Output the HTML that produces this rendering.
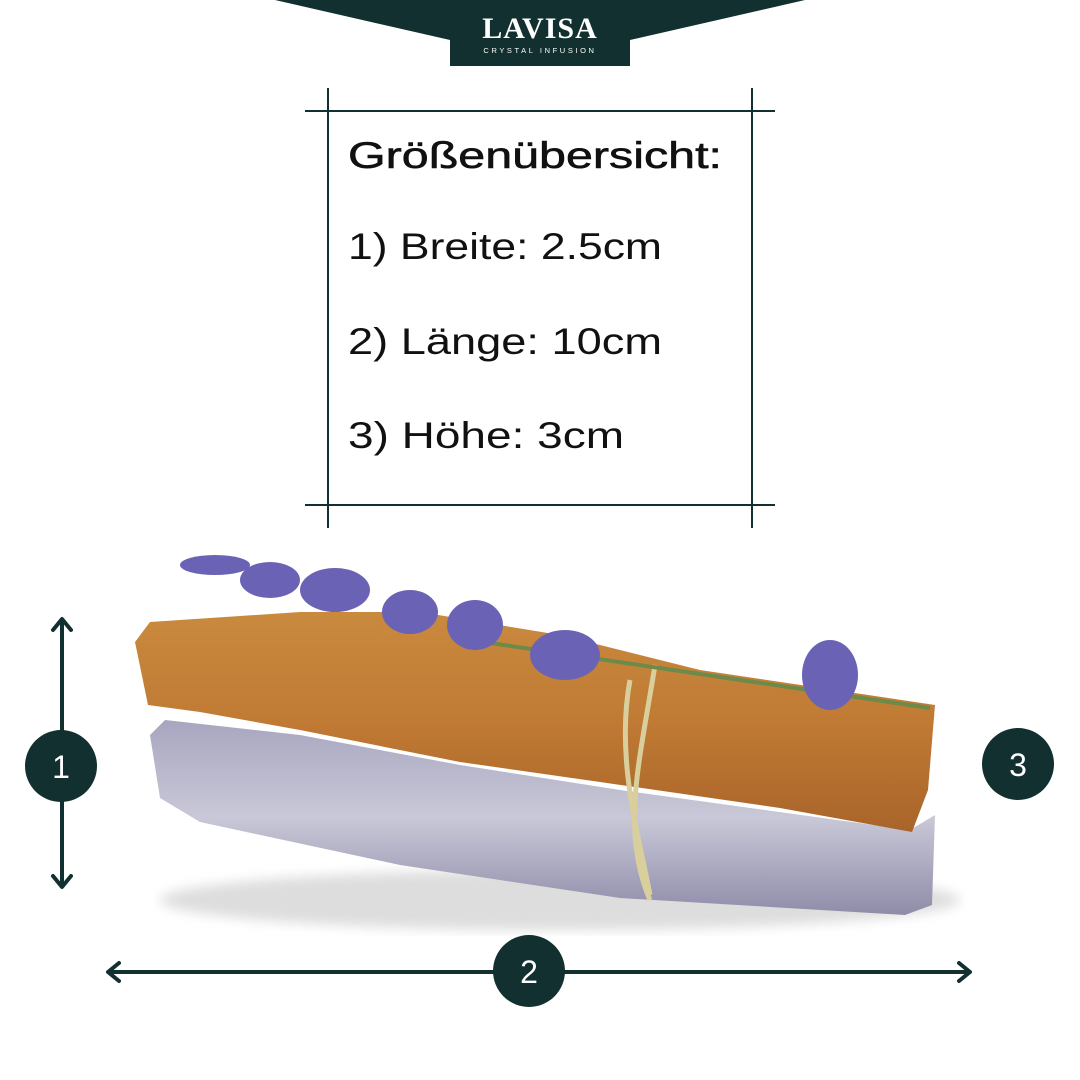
<!DOCTYPE html>
<html><head><meta charset="utf-8"><style>html,body{margin:0;padding:0;background:#fff}svg{display:block}</style></head>
<body>
<svg width="1080" height="1080" viewBox="0 0 1080 1080" xmlns="http://www.w3.org/2000/svg" font-family="Liberation Sans, sans-serif">
<defs>
<linearGradient id="wood" x1="0" y1="0" x2="0" y2="1">
<stop offset="0" stop-color="#c98a3e"/><stop offset="0.5" stop-color="#c07a34"/><stop offset="1" stop-color="#a9642a"/></linearGradient>
<linearGradient id="sel" x1="0" y1="0" x2="0" y2="1">
<stop offset="0" stop-color="#a8a6bf"/><stop offset="0.5" stop-color="#c9c8d8"/><stop offset="1" stop-color="#8e8ca8"/></linearGradient>
<filter id="sh"><feGaussianBlur stdDeviation="6"/></filter>
</defs>
<polygon points="275,0 805,0 630,40 630,66 450,66 450,40" fill="#12302f"/>
<text x="540" y="38" text-anchor="middle" fill="#fff" font-family="Liberation Serif, serif" font-size="30" font-weight="bold" letter-spacing="1">LAVISA</text>
<text x="540" y="53" text-anchor="middle" fill="#fff" font-size="7.5" letter-spacing="2.6">CRYSTAL INFUSION</text>
<g stroke="#12302f" stroke-width="2">
<line x1="305" y1="111" x2="775" y2="111"/><line x1="305" y1="505" x2="775" y2="505"/>
<line x1="328" y1="88" x2="328" y2="528"/><line x1="752" y1="88" x2="752" y2="528"/>
</g>
<g fill="#111" font-size="37">
<text x="348" y="168" textLength="374" lengthAdjust="spacingAndGlyphs" stroke="#111" stroke-width="0.6">Größenübersicht:</text>
<text x="348" y="259" textLength="314" lengthAdjust="spacingAndGlyphs">1) Breite: 2.5cm</text>
<text x="348" y="354" textLength="314" lengthAdjust="spacingAndGlyphs">2) Länge: 10cm</text>
<text x="348" y="448" textLength="276" lengthAdjust="spacingAndGlyphs">3) Höhe: 3cm</text>
</g>
<ellipse cx="560" cy="900" rx="400" ry="30" fill="#ddd" filter="url(#sh)"/>
<polygon points="150,735 165,720 300,735 460,765 620,790 910,830 935,815 932,905 905,915 620,898 400,865 200,822 160,798" fill="url(#sel)"/>
<polygon points="135,642 150,622 300,612 420,612 560,635 700,670 935,705 928,790 912,832 780,808 600,782 460,762 300,730 200,712 148,705" fill="url(#wood)"/>
<path d="M630,680 C615,760 640,840 650,895 M655,665 C640,760 620,830 650,900" stroke="#d8cf9c" stroke-width="5" fill="none"/>
<line x1="470" y1="640" x2="930" y2="708" stroke="#6c8a4a" stroke-width="4"/>
<g fill="#6a63b5">
<ellipse cx="215" cy="565" rx="35" ry="10"/><ellipse cx="270" cy="580" rx="30" ry="18"/>
<ellipse cx="335" cy="590" rx="35" ry="22"/><ellipse cx="410" cy="612" rx="28" ry="22"/>
<ellipse cx="475" cy="625" rx="28" ry="25"/><ellipse cx="565" cy="655" rx="35" ry="25"/>
<ellipse cx="830" cy="675" rx="28" ry="35"/>
</g>
<g stroke="#12302f" stroke-width="4" fill="none" stroke-linecap="round" stroke-linejoin="round">
<line x1="62" y1="620" x2="62" y2="886"/><polyline points="53,630 62,619 71,630"/><polyline points="53,876 62,887 71,876"/>
<line x1="109" y1="972" x2="969" y2="972"/><polyline points="119,963 108,972 119,981"/><polyline points="959,963 970,972 959,981"/>
</g>
<g fill="#12302f"><circle cx="61" cy="766" r="36"/><circle cx="529" cy="971" r="36"/><circle cx="1018" cy="764" r="36"/></g>
<g fill="#fff" font-size="32" text-anchor="middle">
<text x="61" y="778">1</text><text x="529" y="983">2</text><text x="1018" y="776">3</text></g>
</svg>
</body></html>
